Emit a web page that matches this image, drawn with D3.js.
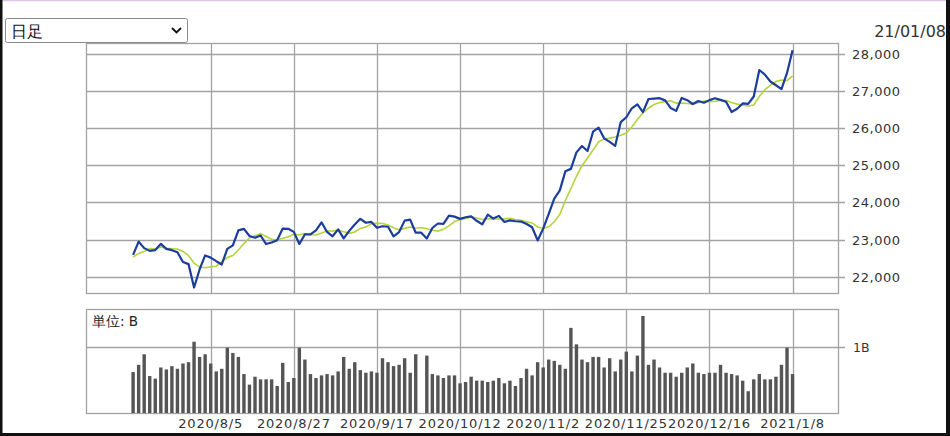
<!DOCTYPE html>
<html><head><meta charset="utf-8">
<script src="https://cdn.jsdelivr.net/npm/d3@7"></script>
<style>
html,body{margin:0;padding:0;background:#fff;}
svg{display:block;}
text{font-family:"DejaVu Sans",sans-serif;}
</style></head>
<body>
<svg id="chart" width="950" height="436"></svg>
<script>
// ---- data ----
const closes = [22587,22945,22770,22696,22717,22884,22751,22715,22657,22397,22339,21710,22195,22573,22514,22418,22329,22750,22843,23249,
23289,23096,23051,23110,22880,22920,22985,23296,23290,23208,22882,23139,23138,23247,23465,23205,23089,23274,23032,23235,
23406,23559,23454,23475,23319,23360,23346,23087,23204,23511,23539,23185,23185,23029,23312,23433,23422,23647,23619,23558,
23601,23626,23507,23410,23671,23567,23639,23474,23516,23494,23485,23418,23331,22977,23295,23695,24105,24325,24839,24905,
25349,25520,25385,25906,26014,25728,25634,25527,26165,26296,26537,26644,26433,26787,26800,26809,26751,26547,26467,26817,
26756,26652,26732,26687,26757,26806,26763,26714,26436,26524,26668,26656,26854,27568,27444,27258,27158,27055,27490,28100];
const ma5 = [22526,22627,22676,22757,22743,22802,22764,22753,22745,22681,22572,22364,22260,22243,22266,22282,22406,22517,22571,22718,
22892,23045,23106,23159,23085,23011,22989,23038,23074,23140,23132,23163,23131,23123,23174,23239,23229,23256,23213,23167,
23207,23301,23337,23426,23443,23433,23391,23317,23263,23302,23337,23305,23325,23290,23250,23229,23276,23369,23487,23536,
23569,23610,23582,23540,23563,23556,23559,23552,23573,23538,23522,23477,23449,23341,23301,23343,23481,23679,24052,24374,
24705,24988,25200,25413,25635,25711,25733,25762,25814,25870,26032,26234,26415,26539,26640,26695,26716,26739,26675,26678,
26668,26648,26685,26729,26717,26727,26749,26745,26695,26649,26621,26600,26628,26854,27038,27156,27256,27297,27281,27410];
const volumes = [0.62,0.73,0.89,0.56,0.52,0.69,0.66,0.71,0.67,0.75,0.77,1.08,0.85,0.89,0.75,0.63,0.67,0.99,0.91,0.85,
0.59,0.43,0.55,0.51,0.51,0.51,0.41,0.76,0.47,0.53,0.99,0.81,0.59,0.53,0.57,0.59,0.57,0.63,0.85,0.67,
0.77,0.65,0.61,0.63,0.61,0.83,0.77,0.71,0.73,0.83,0.61,0.89,0,0.87,0.59,0.57,0.53,0.57,0.57,0.45,
0.47,0.55,0.49,0.49,0.47,0.49,0.53,0.45,0.49,0.41,0.53,0.67,0.57,0.77,0.69,0.81,0.79,0.73,0.67,1.29,
1.04,0.81,0.77,0.85,0.85,0.69,0.83,0.63,0.81,0.93,0.63,0.87,1.47,0.73,0.81,0.69,0.61,0.61,0.55,0.61,
0.69,0.75,0.61,0.59,0.61,0.61,0.73,0.61,0.59,0.57,0.49,0.33,0.51,0.59,0.51,0.51,0.55,0.73,0.99,0.59];
const xTickLabels = ["2020/8/5","2020/8/27","2020/9/17","2020/10/12","2020/11/2","2020/11/25","2020/12/16","2021/1/8"];
const xTickIndex = [14,29,44,59,74,89,104,119];
const priceTicks = [22000,23000,24000,25000,26000,27000,28000];
const volumeTicks = [1];
const volumeTickLabels = ["1B"];
const periodLabel = "日足";
const dateLabel = "21/01/08";
const unitLabel = "単位: B";

// ---- layout ----
const svg = d3.select("#chart");
const L = 86, R = 838;
const pTop = 43, pBot = 293, vTop = 309, vBot = 413;
const x = d3.scaleLinear().domain([-8.5, 127.2]).range([L, R]);
const yP = d3.scaleLinear().domain([21561, 28296]).range([pBot, pTop]);
const yV = d3.scaleLinear().domain([0, 1.576]).range([vBot, vTop]);
const grid = "#a3a3a3";

// frame
svg.append("rect").attr("x",0).attr("y",0).attr("width",950).attr("height",436).attr("fill","#fff");
svg.append("line").attr("x1",0).attr("x2",950).attr("y1",0.5).attr("y2",0.5).attr("stroke","#dcc6e4").attr("stroke-width",1.5);
svg.append("rect").attr("x",0).attr("y",0).attr("width",2.5).attr("height",436).attr("fill","#111");
svg.append("rect").attr("x",946).attr("y",0).attr("width",4).attr("height",436).attr("fill","#111");
svg.append("rect").attr("x",0).attr("y",433).attr("width",950).attr("height",3).attr("fill","#111");

function panel(top, bot, yScale, ticks) {
  const g = svg.append("g");
  g.selectAll(".vg").data(xTickIndex).join("line")
    .attr("x1", d => Math.round(x(d)) + 0.5).attr("x2", d => Math.round(x(d)) + 0.5)
    .attr("y1", top).attr("y2", bot).attr("stroke", grid).attr("stroke-width", 1.3);
  g.selectAll(".hg").data(ticks).join("line")
    .attr("x1", L).attr("x2", R + 7)
    .attr("y1", d => Math.round(yScale(d)) + 0.5).attr("y2", d => Math.round(yScale(d)) + 0.5)
    .attr("stroke", grid).attr("stroke-width", 1.3);
  g.append("rect").attr("x", L + 0.5).attr("y", top + 0.5).attr("width", R - L).attr("height", bot - top)
    .attr("fill", "none").attr("stroke", grid).attr("stroke-width", 1.3);
  return g;
}

// price panel
panel(pTop, pBot, yP, priceTicks);
svg.append("g").selectAll("text").data(priceTicks).join("text")
  .attr("x", 852).attr("y", d => yP(d) + 5)
  .attr("font-size", 13).attr("fill", "#333").attr("letter-spacing", 0.5)
  .text(d => d3.format(",")(d));

svg.append("path").datum(ma5)
  .attr("d", d3.line().x((d, i) => x(i)).y(d => yP(d)))
  .attr("fill", "none").attr("stroke", "#b3d43c").attr("stroke-width", 1.6);
svg.append("path").datum(closes)
  .attr("d", d3.line().x((d, i) => x(i)).y(d => yP(d)))
  .attr("fill", "none").attr("stroke", "#1b3d9e").attr("stroke-width", 2.2).attr("stroke-linejoin", "round");

// volume panel
panel(vTop, vBot, yV, volumeTicks);
svg.append("g").selectAll("rect").data(volumes).join("rect")
  .attr("x", (d, i) => x(i) - 1.7).attr("width", 3.4)
  .attr("y", d => yV(d)).attr("height", d => vBot - yV(d))
  .attr("fill", "#555");
svg.append("g").selectAll("text").data(volumeTicks).join("text")
  .attr("x", 853).attr("y", d => yV(d) + 5)
  .attr("font-size", 12.5).attr("fill", "#333")
  .text((d, i) => volumeTickLabels[i]);
svg.append("text").attr("x", 92).attr("y", 326).attr("font-size", 13.5).attr("fill", "#222")
  .attr("font-family", "'Noto Sans CJK JP', sans-serif").text(unitLabel);

// x labels
svg.append("g").selectAll("text").data(xTickIndex).join("text")
  .attr("x", d => x(d)).attr("y", 428).attr("text-anchor", "middle")
  .attr("font-size", 13).attr("fill", "#333").attr("letter-spacing", 0.8)
  .text((d, i) => xTickLabels[i]);

// dropdown
svg.append("rect").attr("x", 5.5).attr("y", 18.5).attr("width", 182).attr("height", 24).attr("rx", 2)
  .attr("fill", "#fff").attr("stroke", "#8a8a8a");
svg.append("text").attr("x", 11).attr("y", 37).attr("font-size", 16).attr("fill", "#111")
  .attr("font-family", "'Noto Sans CJK JP', sans-serif").text(periodLabel);
svg.append("path").attr("d", "M172,28 L176.5,32.5 L181,28").attr("fill", "none").attr("stroke", "#111").attr("stroke-width", 1.8);

// date
svg.append("text").attr("x", 946).attr("y", 37).attr("text-anchor", "end").attr("font-size", 16)
  .attr("fill", "#333").text(dateLabel);
</script>
</body></html>
